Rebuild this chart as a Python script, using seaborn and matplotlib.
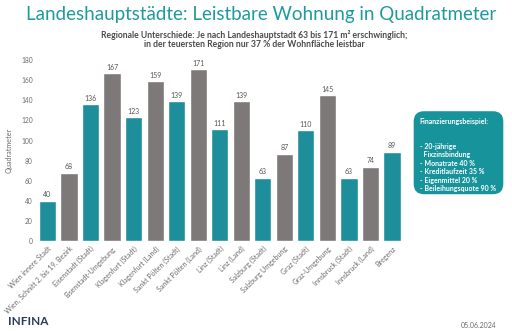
import matplotlib
matplotlib.use("Agg")
import matplotlib.pyplot as plt
import seaborn as sns
import pandas as pd
from matplotlib.patches import FancyBboxPatch

regions = ["Wien innere Stadt", "Wien, Schnitt 2. bis 19. Bezirk", "Eisenstadt (Stadt)",
           "Eisenstadt-Umgebung", "Klagenfurt (Stadt)", "Klagenfurt (Land)",
           "Sankt Pölten (Stadt)", "Sankt Pölten (Land)", "Linz (Stadt)", "Linz (Land)",
           "Salzburg (Stadt)", "Salzburg Umgebung", "Graz (Stadt)", "Graz-Umgebung",
           "Innsbruck (Stadt)", "Innsbruck (Land)", "Bregenz"]
values = [40, 68, 136, 167, 123, 159, 139, 171, 111, 139, 63, 87, 110, 145, 63, 74, 89]
kind = ["Stadt", "Umland"] * 8 + ["Stadt"]
y_ticks = [0, 20, 40, 60, 80, 100, 120, 140, 160, 180]

TEAL = "#0aa0ae"
GRAY = "#7f7878"
TITLE = "#1f9a9c"
TXT = "#6b6b6b"

sns.set_theme(style="white")
plt.rcParams["font.family"] = ["Lato", "DejaVu Sans"]

df = pd.DataFrame({"Region": regions, "Wert": values, "Typ": kind})

fig = plt.figure(figsize=(5.12, 3.32), dpi=100)
ax = fig.add_axes([0.0718, 0.274, 0.7148, 0.545])
sns.barplot(data=df, x="Region", y="Wert", hue="Typ", dodge=False,
            palette={"Stadt": TEAL, "Umland": GRAY}, width=0.8, legend=False, ax=ax)
ax.set_ylim(0, 180)
ax.set_xlim(-0.5, len(regions) - 0.5)
ax.set_yticks(y_ticks)
ax.set_yticklabels([str(t) for t in y_ticks], fontsize=4.8, color=TXT)
ax.tick_params(axis="both", length=0, pad=3)
ax.set_xticks(range(len(regions)))
ax.set_xticklabels(regions, rotation=45, ha="right", rotation_mode="anchor",
                   fontsize=5.0, color=TXT)
ax.set_xlabel("")
ax.set_ylabel("Quadratmeter", fontsize=5.2, color=TXT, labelpad=6)
for s in ax.spines.values():
    s.set_visible(False)
for i, v in enumerate(values):
    ax.text(i, v + 2.5, str(v), ha="center", va="bottom", fontsize=5, color="#555555")

fig.text(0.51, 0.955, "Landeshauptstädte: Leistbare Wohnung in Quadratmeter",
         ha="center", va="center", fontsize=13.5, color=TITLE)
fig.text(0.497, 0.895, "Regionale Unterschiede: Je nach Landeshauptstadt 63 bis 171 m² erschwinglich;",
         ha="center", va="center", fontsize=6.2, color="#4a4a4a", fontweight="bold")
fig.text(0.497, 0.865, "in der teuersten Region nur 37 % der Wohnfläche leistbar",
         ha="center", va="center", fontsize=6.2, color="#4a4a4a", fontweight="bold")

box = FancyBboxPatch((0.808, 0.415), 0.175, 0.25, transform=fig.transFigure,
                     boxstyle="round,pad=0,rounding_size=0.02", mutation_aspect=1.54,
                     facecolor="#17939c", edgecolor="none")
fig.add_artist(box)
fig.text(0.82, 0.645, "Finanzierungsbeispiel:", ha="left", va="top", fontsize=5,
         color="white", fontweight="bold")
fig.text(0.82, 0.57, "- 20-jährige\n  Fixzinsbindung\n- Monatrate 40 %\n- Kreditlaufzeit 35 %\n- Eigenmittel 20 %\n- Beileihungsquote 90 %",
         ha="left", va="top", fontsize=5, color="white", fontweight="bold", linespacing=1.25)

fig.text(0.016, 0.033, "INFINA", ha="left", va="center", fontsize=8.5, color="#2b3a55",
         fontweight="bold")
fig.text(0.97, 0.02, "05.06.2024", ha="right", va="center", fontsize=5, color=TXT)

fig.savefig("out.png", dpi=100)
